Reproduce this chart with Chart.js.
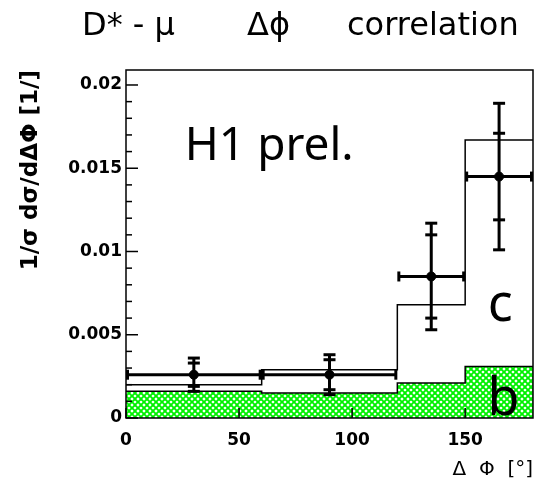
<!DOCTYPE html>
<html>
<head>
<meta charset="utf-8">
<script src="https://cdn.jsdelivr.net/npm/chart.js@4"></script>
<style>
  body { margin: 0; background: #fff; }
  canvas { display: block; }
</style>
</head>
<body>
<canvas id="plot" width="558" height="489"></canvas>
<script>
// bins in delta phi [deg]
let binEdges = [0, 60, 120, 150, 180];

// MC: beauty part (hatched) and total c+b
let bottomMC = [0.0016, 0.0015, 0.0021, 0.0031];
let totalMC = [0.0020, 0.0029, 0.0068, 0.0167];

// data points with stat and total errors
let dataX = [30, 90, 135, 165];
let dataY = [0.0026, 0.0026, 0.0085, 0.0145];
let statErr = [0.0007, 0.0009, 0.0025, 0.0026];
let totErr = [0.0010, 0.0012, 0.0032, 0.0044];

// tick labels
let xTicks = [0, 50, 100, 150];
let yTicks = [0, 0.005, 0.01, 0.015, 0.02];

//histogram as step points: value of bin i at its left edge, last value repeated at the right edge
let pasos = (vals) => binEdges.map((e, i) => ({x: e, y: vals[Math.min(i, vals.length - 1)]}));

let plotRef = document.getElementById('plot');
let ctx = plotRef.getContext('2d');

//green cross hatch
let tile = document.createElement('canvas');
tile.width = 6; tile.height = 6;
let tc = tile.getContext('2d');
tc.fillStyle = '#fff';
tc.fillRect(0, 0, 6, 6);
tc.strokeStyle = '#00f000';
tc.lineWidth = 1.9;
tc.beginPath();
for (let o = -6; o <= 6; o += 6) {
  tc.moveTo(o, 0); tc.lineTo(o + 6, 6);
  tc.moveTo(o + 6, 0); tc.lineTo(o, 6);
}
tc.stroke();
let hatch = ctx.createPattern(tile, 'repeat');

let linea = (c, x0, y0, x1, y1) => {
  c.beginPath(); c.moveTo(x0, y0); c.lineTo(x1, y1); c.stroke();
};

let errorBars = {
  id: 'errorBars',
  afterDatasetsDraw(chart) {
    let {ctx, scales: {x, y}} = chart;
    ctx.save();
    ctx.strokeStyle = '#000';
    ctx.lineWidth = 3;
    for (let i = 0; i < dataY.length; i++) {
      let px = x.getPixelForValue(dataX[i]);
      let py = y.getPixelForValue(dataY[i]);
      let x0 = x.getPixelForValue(binEdges[i]);
      let x1 = x.getPixelForValue(binEdges[i + 1]);
      let tHi = y.getPixelForValue(dataY[i] + totErr[i]);
      let tLo = y.getPixelForValue(dataY[i] - totErr[i]);
      let sHi = y.getPixelForValue(dataY[i] + statErr[i]);
      let sLo = y.getPixelForValue(dataY[i] - statErr[i]);
      linea(ctx, px, tHi, px, tLo);
      linea(ctx, x0 + 1.5, py, x1 - 1.5, py);
      linea(ctx, x0 + 1.5, py - 5, x0 + 1.5, py + 5);
      linea(ctx, x1 - 1.5, py - 5, x1 - 1.5, py + 5);
      [tHi, tLo, sHi, sLo].forEach(c => linea(ctx, px - 6, c, px + 6, c));
    }
    ctx.restore();
  }
};

let marco = {
  id: 'marco',
  afterDraw(chart) {
    let {ctx, chartArea: a, scales: {x, y}} = chart;
    ctx.save();
    ctx.strokeStyle = '#000';
    ctx.lineWidth = 1.5;
    ctx.strokeRect(a.left, a.top, a.right - a.left, a.bottom - a.top);
    //ticks on y axis, minor every 0.001
    for (let k = 0; k <= 20; k++) {
      let py = y.getPixelForValue(k * 0.001);
      linea(ctx, a.left, py, a.left + (k % 5 === 0 ? 12 : 6), py);
    }
    xTicks.forEach(v => {
      let px = x.getPixelForValue(v);
      linea(ctx, px, a.bottom, px, a.bottom - 10);
    });

    //texts
    ctx.fillStyle = '#000';
    ctx.textBaseline = 'alphabetic';
    ctx.font = '32px "DejaVu Sans"';
    ctx.textAlign = 'left';
    ctx.fillText('D* - μ', 82, 35);
    ctx.fillText('Δϕ', 247, 35);
    ctx.fillText('correlation', 347, 35);

    ctx.font = '46px "Noto Sans"';
    ctx.fillText('H1 prel.', x.getPixelForValue(26), y.getPixelForValue(0.0155));
    ctx.font = '52px "Noto Sans"';
    ctx.textAlign = 'center';
    ctx.fillText('c', x.getPixelForValue(165.5), y.getPixelForValue(0.0058));
    ctx.fillText('b', x.getPixelForValue(167), y.getPixelForValue(0.0002));
    ctx.restore();
  }
};

let tickFont = {family: 'DejaVu Sans', size: 17, weight: 'bold'};

let config = {
  type: 'line',
  data: {
    datasets: [
      {
        type: 'scatter',
        label: 'data',
        data: dataX.map((v, i) => ({x: v, y: dataY[i]})),
        pointRadius: 4.5,
        pointBackgroundColor: '#000',
        pointBorderColor: '#000',
        order: 0
      },
      {
        label: 'c + b',
        data: pasos(totalMC),
        stepped: 'before',
        borderColor: '#000',
        borderWidth: 1.5,
        pointRadius: 0,
        fill: false,
        order: 1
      },
      {
        label: 'b',
        data: pasos(bottomMC),
        stepped: 'before',
        borderColor: '#000',
        borderWidth: 1.5,
        pointRadius: 0,
        fill: 'origin',
        backgroundColor: hatch,
        order: 2
      }
    ]
  },
  options: {
    responsive: false,
    animation: false,
    layout: {padding: {top: 70, right: 25, left: 0, bottom: 0}},
    plugins: {
      legend: {display: false},
      tooltip: {enabled: false},
      title: {display: false}
    },
    scales: {
      x: {
        type: 'linear',
        min: 0,
        max: 180,
        grid: {display: false, drawTicks: false},
        border: {display: false},
        afterBuildTicks: s => { s.ticks = xTicks.map(v => ({value: v})); },
        afterFit: s => { s.height = 71; },
        ticks: {color: '#000', font: tickFont, padding: 12, maxRotation: 0},
        title: {
          display: true,
          text: 'Δ  Φ  [°]',
          align: 'end',
          color: '#000',
          font: {family: 'DejaVu Sans', size: 20, lineHeight: 1.2},
          padding: {top: 0, bottom: 7}
        }
      },
      y: {
        type: 'linear',
        min: 0,
        max: 0.0209,
        grid: {display: false, drawTicks: false},
        border: {display: false},
        afterBuildTicks: s => { s.ticks = yTicks.map(v => ({value: v})); },
        afterFit: s => { s.width = 126; },
        ticks: {color: '#000', font: tickFont, padding: 4, callback: v => String(+v.toFixed(3))},
        title: {
          display: true,
          text: '1/σ dσ/dΔΦ [1/]',
          align: 'end',
          color: '#000',
          font: {family: 'DejaVu Sans', size: 23, weight: 'bold', lineHeight: 1.2},
          padding: {top: 17, bottom: 0}
        }
      }
    }
  },
  plugins: [errorBars, marco]
};

new Chart(plotRef, config);
</script>
</body>
</html>
